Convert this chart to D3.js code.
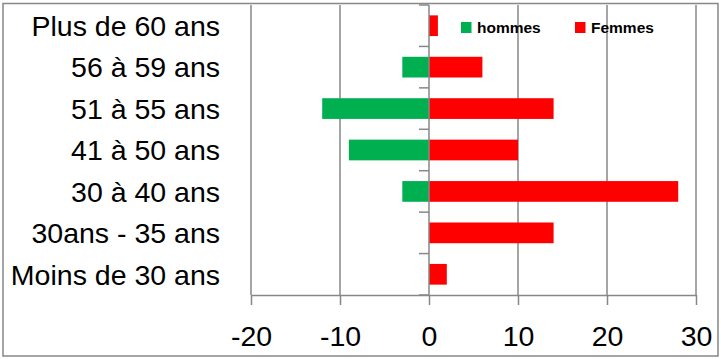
<!DOCTYPE html>
<html><head><meta charset="utf-8">
<script src="https://cdn.jsdelivr.net/npm/d3@7"></script>
<style>html,body{margin:0;padding:0;background:#fff;}svg{display:block;}</style>
</head><body>
<svg id="c" width="721" height="359"></svg>
<script>
const categories = ["Plus de 60 ans","56 à 59 ans","51 à 55 ans","41 à 50 ans","30 à 40 ans","30ans - 35 ans","Moins de 30 ans"];
const hommes = [0, -3, -12, -9, -3, 0, 0];
const femmes = [1, 6, 14, 10, 28, 14, 2];
const xTicks = [-20, -10, 0, 10, 20, 30];
const seriesNames = ["hommes", "Femmes"];
const colors = ["#00B050", "#FF0000"];

const svg = d3.select("#c");
const grid = "#878787";
const font = "'Liberation Sans', Arial, sans-serif";

// outer border
svg.append("rect").attr("x", 3).attr("y", 3.5).attr("width", 715).attr("height", 352.5)
  .attr("fill", "#fff").attr("stroke", grid).attr("stroke-width", 1.5);

const x = d3.scaleLinear().domain([-20, 30]).range([251, 696]);
const y = d3.scaleBand().domain(categories).range([5, 295]).paddingInner(0.5).paddingOuter(0.25);

// gridlines
svg.append("g").selectAll("line").data(xTicks.filter(t => t !== 0)).join("line")
  .attr("x1", d => x(d)).attr("x2", d => x(d)).attr("y1", 5).attr("y2", 295)
  .attr("stroke", grid).attr("stroke-width", 1.5);

// bars
const rows = categories.map((c, i) => ({c, h: hommes[i], f: femmes[i]}));
svg.append("g").selectAll("rect").data(rows).join("rect")
  .attr("x", d => x(Math.min(0, d.h))).attr("width", d => Math.abs(x(d.h) - x(0)))
  .attr("y", d => y(d.c)).attr("height", y.bandwidth()).attr("fill", colors[0]);
svg.append("g").selectAll("rect").data(rows).join("rect")
  .attr("x", d => x(Math.min(0, d.f))).attr("width", d => Math.abs(x(d.f) - x(0)))
  .attr("y", d => y(d.c)).attr("height", y.bandwidth()).attr("fill", colors[1]);

// x axis
const xAxis = d3.axisBottom(x).tickValues(xTicks).tickFormat(d => String(d))
  .tickSize(10).tickSizeOuter(0).tickPadding(21);
const gx = svg.append("g").attr("transform", "translate(0,295)").call(xAxis);
gx.select(".domain").attr("stroke", grid).attr("stroke-width", 1.5);
gx.selectAll(".tick line").attr("stroke", grid).attr("stroke-width", 1.5);
gx.selectAll(".tick text").attr("font-family", font).attr("font-size", 28.5).attr("fill", "#000");

// zero axis (vertical) with category boundary ticks
svg.append("line").attr("x1", x(0)).attr("x2", x(0)).attr("y1", 5).attr("y2", 295)
  .attr("stroke", grid).attr("stroke-width", 1.5);
svg.append("g").selectAll("line").data(d3.range(categories.length + 1)).join("line")
  .attr("x1", x(0) - 10).attr("x2", x(0))
  .attr("y1", i => 5 + i * (290 / categories.length)).attr("y2", i => 5 + i * (290 / categories.length))
  .attr("stroke", grid).attr("stroke-width", 1.5);

// category labels
svg.append("g").selectAll("text").data(categories).join("text")
  .attr("x", 220).attr("y", d => y(d) + y.bandwidth() / 2).attr("dy", "0.36em")
  .attr("text-anchor", "end").attr("font-family", font).attr("font-size", 28.5).attr("fill", "#000")
  .text(d => d);

// legend
const legendX = [461, 575];
const lg = svg.append("g");
seriesNames.forEach((n, i) => {
  lg.append("rect").attr("x", legendX[i]).attr("y", 22).attr("width", 10.5).attr("height", 11).attr("fill", colors[i]);
  lg.append("text").attr("x", legendX[i] + 16).attr("y", 33).attr("font-family", font)
    .attr("font-weight", "bold").attr("font-size", 15.5).attr("fill", "#000").text(n);
});
</script>
</body></html>
